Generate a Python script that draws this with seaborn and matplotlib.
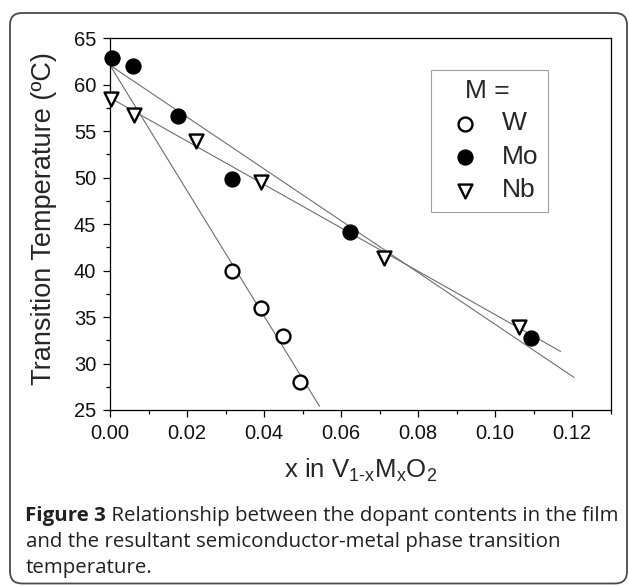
import numpy as np
import pandas as pd
import matplotlib
matplotlib.use("Agg")
import matplotlib.pyplot as plt
import seaborn as sns
from matplotlib.patches import FancyBboxPatch
from matplotlib.transforms import IdentityTransform
from matplotlib.ticker import MultipleLocator

# values
w_x = [0.0316, 0.0392, 0.0450, 0.0493]
w_y = [40.0, 36.0, 33.0, 28.0]

mo_x = [0.0004, 0.0061, 0.0176, 0.0316, 0.0622, 0.1094]
mo_y = [62.9, 62.0, 56.6, 49.9, 44.2, 32.7]

nb_x = [0.0003, 0.0062, 0.0222, 0.0391, 0.0711, 0.1063]
nb_y = [58.5, 56.7, 54.0, 49.5, 41.4, 33.9]

# linear fit lines (end points as drawn in the figure)
w_fit_x = [0.0, 0.0544]
w_fit_y = [62.1, 25.4]
mo_fit_x = [0.0, 0.1205]
mo_fit_y = [62.1, 28.5]
nb_fit_x = [0.0, 0.1170]
nb_fit_y = [58.6, 31.3]

x_ticks = [0.00, 0.02, 0.04, 0.06, 0.08, 0.10, 0.12]
y_ticks = [25, 30, 35, 40, 45, 50, 55, 60, 65]

caption_bold = "Figure 3"
caption_rest = [" Relationship between the dopant contents in the film",
                "and the resultant semiconductor-metal phase transition",
                "temperature."]

sns.set_theme(style="ticks")
plt.rcParams["font.family"] = ["Liberation Sans", "DejaVu Sans"]
plt.rcParams["mathtext.fontset"] = "custom"
plt.rcParams["mathtext.rm"] = "Liberation Sans"
plt.rcParams["mathtext.it"] = "Liberation Sans"

W, H = 629, 586
fig = plt.figure(figsize=(W / 100, H / 100), dpi=100)
fig.patch.set_facecolor("white")

ax_l, ax_r, ax_t, ax_b = 110, 610.7, 38.3, 410
ax = fig.add_axes([ax_l / W, 1 - ax_b / H, (ax_r - ax_l) / W, (ax_b - ax_t) / H])

line_kw = dict(color="#6e6e6e", linewidth=0.8, ax=ax, legend=False, zorder=2)
for fx, fy in [(w_fit_x, w_fit_y), (mo_fit_x, mo_fit_y), (nb_fit_x, nb_fit_y)]:
    sns.lineplot(x=fx, y=fy, **line_kw)

pt_kw = dict(s=100, linewidth=1.7, edgecolor="black", ax=ax, zorder=3, clip_on=False)
sns.scatterplot(x=w_x, y=w_y, marker="o", facecolor="white", label="W", **pt_kw)
sns.scatterplot(x=mo_x, y=mo_y, marker="o", color="black", label="Mo", **pt_kw)
sns.scatterplot(x=nb_x, y=nb_y, marker="v", facecolor="white", label="Nb", **pt_kw)

ax.set_xlim(0, 0.13)
ax.set_ylim(25, 65)
ax.set_xticks(x_ticks)
ax.set_xticklabels([f"{v:.2f}" for v in x_ticks])
ax.set_yticks(y_ticks)
ax.xaxis.set_minor_locator(MultipleLocator(0.01))
ax.yaxis.set_minor_locator(MultipleLocator(2.5))
ax.tick_params(axis="both", which="major", direction="out", length=5, width=0.9,
               labelsize=14.5, color="black", labelcolor="#111111")
ax.tick_params(axis="x", which="major", pad=5)
ax.tick_params(axis="y", which="major", pad=5)
ax.tick_params(axis="both", which="minor", direction="out", length=3, width=0.9, color="black")
for sp in ax.spines.values():
    sp.set_visible(True)
    sp.set_color("black")
    sp.set_linewidth(0.9)

ax.set_ylabel("Transition Temperature (ºC)", fontsize=19.5, labelpad=12)
ax.yaxis.label.set_y(0.515)
ax.set_xlabel("x in V$_{\\mathregular{1\u2010x}}$M$_{\\mathregular{x}}$O$_{\\mathregular{2}}$",
              fontsize=18.5, labelpad=10)

leg = ax.legend(title="M =", loc="upper left", bbox_to_anchor=(0.641, 0.915),
                fontsize=19, title_fontsize=19, frameon=True, fancybox=False,
                borderpad=0.35, borderaxespad=0, handlelength=1.9, handletextpad=0.45,
                labelspacing=0.36, markerscale=1.0)
leg.get_frame().set_edgecolor("#8a8a8a")
leg.get_frame().set_linewidth(0.8)
leg._legend_box.align = "left"
leg._legend_box.sep = 6
leg.get_title().set_position((25, 0))

# caption
cap_kw = dict(fontsize=14.75, family="Open Sans", color="#231f20", va="baseline")
t = fig.text(25 / W, 1 - 521 / H, caption_bold, fontweight="bold", **cap_kw)
fig.canvas.draw()
bb = t.get_window_extent(fig.canvas.get_renderer())
fig.text(bb.x1 / W, 1 - 521 / H, caption_rest[0], **cap_kw)
fig.text(26 / W, 1 - 547.5 / H, caption_rest[1], **cap_kw)
fig.text(26 / W, 1 - 573 / H, caption_rest[2], **cap_kw)

# rounded outer frame
frame = FancyBboxPatch((10, 2.5), 617, 570.5, boxstyle="round,pad=0,rounding_size=12",
                       transform=IdentityTransform(), facecolor="none",
                       edgecolor="#4a4a4a", linewidth=1.3)
fig.add_artist(frame)

fig.savefig("out.png", dpi=100)
